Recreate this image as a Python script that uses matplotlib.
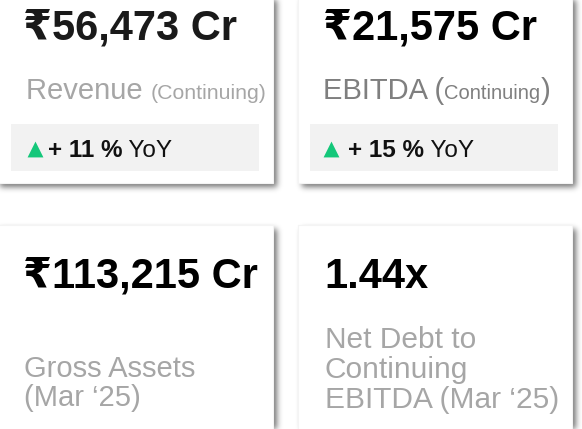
import numpy as np
import matplotlib
matplotlib.use("Agg")
import matplotlib.pyplot as plt
from matplotlib.patches import Rectangle

# KPI values
values = ["₹56,473 Cr", "₹21,575 Cr", "₹113,215 Cr", "1.44x"]
labels = ["Revenue", "EBITDA", "Gross Assets\n(Mar \u201825)", "Net Debt to\nContinuing\nEBITDA (Mar \u201825)"]
yoy = [11, 15]

W, H = 582, 429
FONT = ["Liberation Sans", "DejaVu Sans"]
GREY = "#a6a6a6"
GREEN = "#14c77a"

fig = plt.figure(figsize=(W / 100, H / 100), dpi=100)
ax = fig.add_axes([0, 0, 1, 1])
ax.set_xlim(0, W)
ax.set_ylim(H, 0)
ax.axis("off")

# card boxes (x0, y0, x1, y1) in pixels
cards = [(-8, -10, 273, 183), (298, -10, 572, 183),
         (-8, 225, 273, 440), (298, 225, 572, 440)]

# soft drop shadow
mask = np.zeros((H, W))
for x0, y0, x1, y1 in cards:
    mask[max(y0 + 4, 0):min(y1 + 4, H), max(x0 + 4, 0):min(x1 + 4, W)] = 1.0
k = np.exp(-0.5 * (np.arange(-9, 10) / 3.0) ** 2)
k /= k.sum()
blur = np.apply_along_axis(lambda r: np.convolve(r, k, mode="same"), 1, mask)
blur = np.apply_along_axis(lambda c: np.convolve(c, k, mode="same"), 0, blur)
rgba = np.zeros((H, W, 4))
rgba[..., 3] = blur * 0.55
ax.imshow(rgba, extent=(0, W, H, 0), zorder=0, interpolation="bilinear")

for x0, y0, x1, y1 in cards:
    ax.add_patch(Rectangle((x0, y0), x1 - x0, y1 - y0, facecolor="white",
                           edgecolor="#f4f4f4", lw=0.8, zorder=1))

fig.canvas.draw()
renderer = fig.canvas.get_renderer()


def seq(x, y, parts):
    # draw text pieces one after the other on one baseline
    for s, size, weight, color in parts:
        t = ax.text(x, y, s, fontsize=size, fontweight=weight, color=color,
                    family=FONT, va="baseline", ha="left", zorder=3)
        x += t.get_window_extent(renderer).width


# top cards
seq(23, 40, [(values[0], 30, "bold", "#1a1a1a")])
seq(323, 40, [(values[1], 30, "bold", "#000000")])
seq(26, 99, [(labels[0] + " ", 21, "normal", GREY), ("(Continuing)", 15.3, "normal", GREY)])
seq(323, 99, [(labels[1] + " (", 21, "normal", "#7f7f7f"), ("Continuing", 14.5, "normal", "#7f7f7f"),
              (")", 21, "normal", "#7f7f7f")])

for bx, tri_x, txt_x, val in [(11, 26, 48, yoy[0]), (310, 322, 348, yoy[1])]:
    ax.add_patch(Rectangle((bx, 124), 248, 47, facecolor="#f2f2f2", edgecolor="none", zorder=2))
    ax.scatter([tri_x + 8.5], [148.5], marker="^", s=130, color=GREEN, linewidths=0, zorder=3)
    seq(txt_x, 157, [(f"+ {val} %", 17.5, "bold", "#111111"), (" YoY", 17.5, "normal", "#111111")])

# bottom cards
seq(23, 288, [(values[2], 30, "bold", "#000000")])
seq(324, 288, [(values[3], 30, "bold", "#000000")])
for i, line in enumerate(labels[2].split("\n")):
    seq(24, 377 + i * 29, [(line, 21, "normal", GREY)])
for i, line in enumerate(labels[3].split("\n")):
    seq(325, 348 + i * 30, [(line, 21.5, "normal", GREY)])

fig.savefig("out.png", dpi=100)
